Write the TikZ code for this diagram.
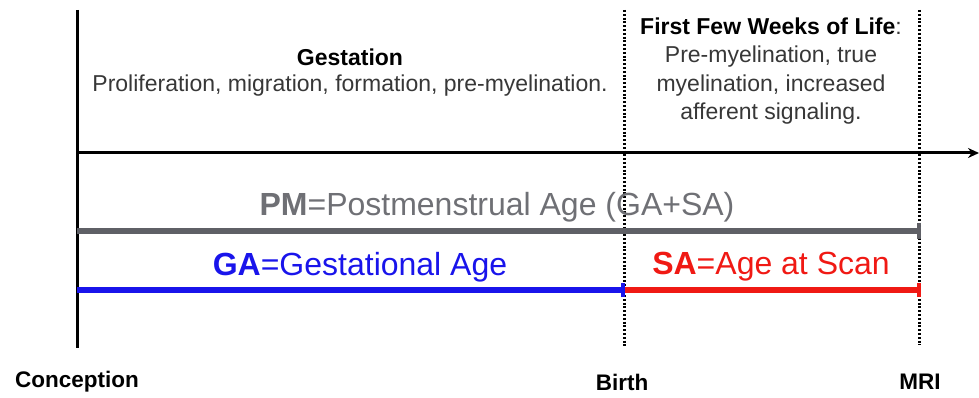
\documentclass[tikz,border=0pt]{standalone}
\usepackage{xcolor}
\usepackage{fontspec}
\setmainfont{Liberation Sans}
\usepackage{tikz}
\usetikzlibrary{positioning,arrows.meta}

\definecolor{pmgray}{RGB}{95,96,102}
\definecolor{gablue}{RGB}{25,20,235}
\definecolor{sared}{RGB}{240,25,20}
\definecolor{txtgray}{RGB}{55,55,55}

\begin{document}
\begin{tikzpicture}[x=1pt,y=-1pt,
		pointlabel/.style={font=\fontsize{22.5}{26}\selectfont\bfseries},
		dotline/.style={dash pattern=on 2pt off 1.8pt,line width=3pt},
		span/.style={line width=5.5pt},
		agelabel/.style={font=\fontsize{32}{36}\selectfont},
		tick/.style={line width=3.5pt}]
	\useasboundingbox (0,0) rectangle (979,398);

	% time points
	\coordinate (c0) at (77,10);
	\coordinate (c1) at (77,348);
	\coordinate (b0) at (624,10);
	\coordinate (b1) at (624,348);
	\coordinate (m0) at (919,10);
	\coordinate (m1) at (919,345);
	\coordinate (ax0) at (77,153);
	\coordinate (ax1) at (979,153);

	\draw[line width=3pt] (c0) -- (c1);
	\draw[dotline] (b0) -- (b1);
	\draw[dotline] (m0) -- (m1);
	\draw[line width=3pt,-{Stealth[length=11pt,width=10pt]}] (ax0) -- (ax1);

	\node[pointlabel] (conc) at (77,382) {Conception};
	\node[pointlabel] (birth) at (622,382) {Birth};
	\node[pointlabel] (mri) at (920,382) {MRI};

	% periods
	\node[font=\fontsize{23}{27}\selectfont\bfseries] (gest) at (350,57) {Gestation};
	\node[font=\fontsize{23}{27}\selectfont,text=txtgray] (gestdesc) at (350,86) {Proliferation, migration, formation, pre-myelination.};
	\node[font=\fontsize{23}{28.3}\selectfont,text=txtgray,align=center] (life) at (771,71)
		{\textcolor{black}{\bfseries First Few Weeks of Life}:\\Pre-myelination, true\\myelination, increased\\afferent signaling.};

	% ages
	\coordinate (pm0) at (77,231);
	\coordinate (pm1) at (919,231);
	\coordinate (ga0) at (77,290);
	\coordinate (ga1) at (623,290);
	\coordinate (sa1) at (919,290);

	\draw[span,pmgray] (pm0) -- (pm1);
	\draw[span,gablue] (ga0) -- (ga1);
	\draw[span,sared] (ga1) -- (sa1);
	\draw[tick,pmgray] ([yshift=-8pt]pm1) -- ([yshift=8pt]pm1);
	\draw[tick,gablue] ([yshift=-7pt]ga1) -- ([yshift=7pt]ga1);
	\draw[tick,sared] ([yshift=-7pt]sa1) -- ([yshift=7pt]sa1);

	\node[agelabel,text=pmgray!90] (pm) at (497,207) {\textbf{PM}=Postmenstrual Age (GA+SA)};
	\node[agelabel,text=gablue] (ga) at (360,267) {\textbf{GA}=Gestational Age};
	\node[agelabel,text=sared] (sa) at (771,267) {\textbf{SA}=Age at Scan};

\end{tikzpicture}
\end{document}
